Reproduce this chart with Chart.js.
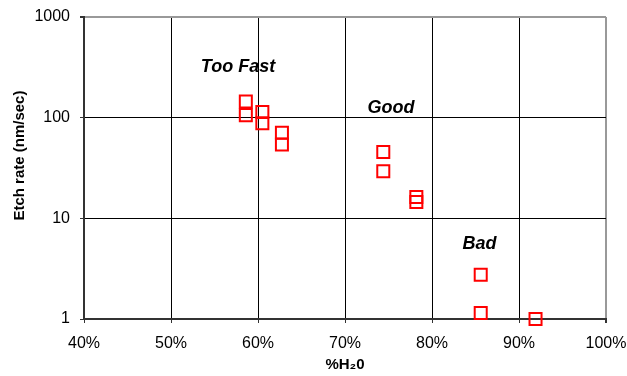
<!DOCTYPE html>
<html>
<head>
<meta charset="utf-8">
<script src="https://cdn.jsdelivr.net/npm/chart.js@4"></script>
<style>
  html, body { margin: 0; padding: 0; background: #fff; }
  #etchWrap { width: 627px; height: 376px; }
</style>
</head>
<body>
<div id="etchWrap"><canvas id="etchRateGraph" width="627" height="376"></canvas></div>
<script>
// water content (%) and measured etch rate (nm/sec)
const waterPct = [58.6, 58.6, 60.5, 60.5, 62.75, 62.75, 74.4, 74.4, 78.2, 78.2, 85.6, 85.6, 91.9];
const etchRate = [145, 106, 114, 88, 71, 54, 45.5, 29.3, 16.3, 14.5, 2.75, 1.15, 1.0];

const xTicks = [40, 50, 60, 70, 80, 90, 100];
const yTicks = [1, 10, 100, 1000];

// region labels written inside the plot
const noteText = ['Too Fast', 'Good', 'Bad'];
const noteX = [57.7, 75.3, 85.45];
const noteY = [318, 126, 5.55];

const yTitle = 'Etch rate (nm/sec)';

const fontFamily = "'Liberation Sans', Arial, Helvetica, sans-serif";

const regionNotes = {
    id: 'regionNotes',
    afterDatasetsDraw(chart) {
        const ctx = chart.ctx;
        const xs = chart.scales.x;
        const ys = chart.scales.y;
        ctx.save();
        ctx.font = 'italic bold 18px ' + fontFamily;
        ctx.fillStyle = '#000';
        ctx.textAlign = 'center';
        ctx.textBaseline = 'middle';
        noteText.forEach((t, i) => {
            ctx.fillText(t, xs.getPixelForValue(noteX[i]), ys.getPixelForValue(noteY[i]));
        });

        // vertical axis title, sitting a little above the middle of the axis
        ctx.font = 'bold 15px ' + fontFamily;
        ctx.translate(20, ys.getPixelForValue(42));
        ctx.rotate(-Math.PI / 2);
        ctx.fillText(yTitle, 0, 0);
        ctx.restore();
    }
};

const etchRateGraph = document.getElementById('etchRateGraph');

new Chart(etchRateGraph, {
    type: 'scatter',
    data: {
        datasets: [
            {
                data: waterPct.map((x, i) => ({ x: x, y: etchRate[i] })),
                pointStyle: 'rect',
                pointRadius: 8.5,
                pointHoverRadius: 8.5,
                borderWidth: 2,
                borderColor: '#FF0000',
                backgroundColor: 'rgba(255,255,255,0)',
                clip: false
            }
        ]
    },
    options: {
        responsive: false,
        animation: false,
        events: [],
        layout: {
            padding: { left: 0, top: 17, right: 21, bottom: 0 }
        },
        plugins: {
            legend: { display: false },
            tooltip: { enabled: false }
        },
        scales: {
            x: {
                type: 'linear',
                min: 40,
                max: 100,
                afterBuildTicks: (scale) => { scale.ticks = xTicks.map(v => ({ value: v })); },
                afterFit: (scale) => {
                    scale.height = 57;
                    scale.paddingLeft = 0;
                    scale.paddingRight = 0;
                },
                ticks: {
                    color: '#000',
                    padding: 11,
                    maxRotation: 0,
                    font: { family: fontFamily, size: 16 },
                    callback: (v) => v + '%'
                },
                grid: {
                    color: (c) => (c.tick && c.tick.value === 100) ? '#999' : '#000',
                    lineWidth: (c) => (c.tick && c.tick.value === 100) ? 2 : 1,
                    tickLength: 4,
                    tickColor: '#333'
                },
                border: { color: '#333', width: 2 },
                title: {
                    display: true,
                    text: '%H₂0',
                    color: '#000',
                    padding: { top: 0, bottom: 2 },
                    font: { family: fontFamily, size: 15, weight: 'bold' }
                }
            },
            y: {
                type: 'logarithmic',
                min: 1,
                max: 1000,
                afterBuildTicks: (scale) => { scale.ticks = yTicks.map(v => ({ value: v })); },
                afterFit: (scale) => {
                    scale.width = 84;
                    scale.paddingTop = 0;
                    scale.paddingBottom = 0;
                },
                ticks: {
                    color: '#000',
                    padding: 10,
                    font: { family: fontFamily, size: 16 },
                    callback: (v) => String(v)
                },
                grid: {
                    color: (c) => (c.tick && c.tick.value === 1000) ? '#999' : '#000',
                    lineWidth: (c) => (c.tick && c.tick.value === 1000) ? 2 : 1,
                    tickLength: 4,
                    tickColor: '#333'
                },
                border: { color: '#333', width: 2 }
            }
        }
    },
    plugins: [regionNotes]
});
</script>
</body>
</html>
